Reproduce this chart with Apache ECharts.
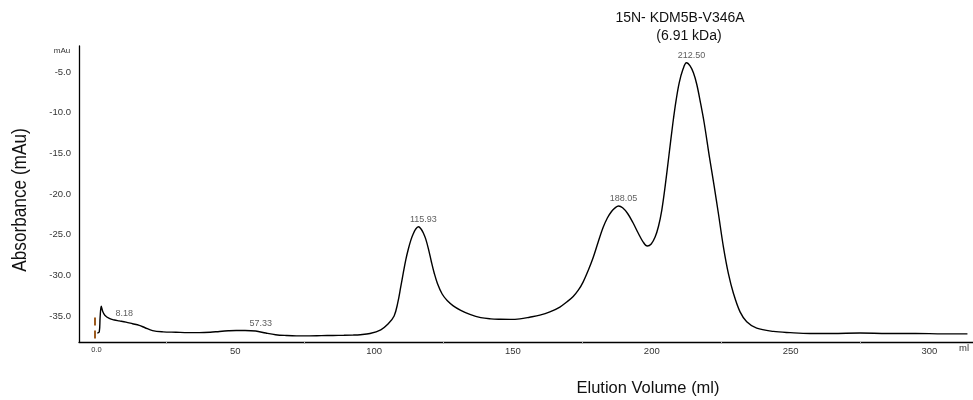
<!DOCTYPE html>
<html>
<head>
<meta charset="utf-8">
<title>15N- KDM5B-V346A elution profile</title>
<script src="https://cdn.jsdelivr.net/npm/echarts@6/dist/echarts.min.js"></script>
<style>
  html, body { margin: 0; padding: 0; background: #fff; }
  #chart { width: 973px; height: 400px; }
</style>
</head>
<body>
<div id="chart"></div>
<script>
// Elution volume (ml) of each trace sample
const volumes = [
  0.3, 1.0, 1.3, 1.7, 2.2, 3.0, 4.6, 6.5, 8.18, 10.6, 13, 15.4, 17.5, 20.2, 24, 28.6,
  33, 37, 41, 44.3, 47.5, 50.3, 53.5, 57.33, 61, 64.5, 68.3, 72, 76.7, 81, 85.2, 89,
  92.3, 95, 98.5, 102.4, 105, 107.2, 108.5, 109.6, 110.5, 111.4, 112.3, 113.2, 114.1,
  114.9, 115.93, 116.9, 117.8, 118.6, 119.6, 120.6, 121.7, 122.8, 124.5, 126.3, 128.5,
  131.2, 134.5, 138.4, 142, 145.5, 149, 152.5, 156, 159.7, 163.3, 166.9, 169.5, 171.7,
  173.6, 175.3, 177.1, 178.9, 180.7, 182.5, 184, 185.5, 186.8, 188.05, 189.5, 191.3,
  193.2, 195.1, 196.8, 198.4, 199.8, 201.2, 202.4, 203.6, 204.8, 206.2, 207.6, 208.8,
  209.9, 211.2, 212.5, 213.8, 215.0, 216.2, 217.5, 218.9, 220.7, 222.5, 224, 225.8,
  227.6, 229.4, 231.8, 234.2, 237.8, 243.8, 249.9, 257, 265, 275, 285, 295, 305, 313.7
];

// UV absorbance (mAu) at each volume
const absorbance = [
  -37.1, -36.95, -35.2, -33.8, -34.4, -34.9, -35.3, -35.5, -35.6, -35.75, -35.95, -36.15,
  -36.45, -36.8, -36.95, -37.0, -37.05, -37.05, -37.0, -36.9, -36.82, -36.78, -36.78,
  -36.85, -37.1, -37.3, -37.4, -37.45, -37.45, -37.42, -37.4, -37.38, -37.35, -37.3,
  -37.15, -36.7, -36.0, -35.0, -33.4, -31.4, -29.7, -28.1, -26.8, -25.7, -24.9,
  -24.35, -24.03, -24.3, -24.85, -25.55, -26.8, -28.3, -29.8, -31.0, -32.3, -33.1, -33.75,
  -34.3, -34.8, -35.2, -35.35, -35.4, -35.42, -35.35, -35.15, -34.9, -34.5, -33.9, -33.25,
  -32.6, -31.8, -30.8, -29.4, -27.8, -25.9, -24.1, -22.95, -22.15, -21.7, -21.48, -21.7,
  -22.4, -23.5, -24.8, -25.85, -26.4, -26.15, -25.3, -24.0, -22.0, -19.1, -15.2, -11.3,
  -8.4, -6.3, -4.7, -3.86, -4.25, -5.1, -6.5, -8.7, -11.3, -15.3, -19.1, -22.4, -26.5,
  -29.8, -32.2, -34.5, -35.7, -36.5, -36.9, -37.05, -37.15, -37.15, -37.1, -37.15, -37.15,
  -37.2, -37.2
];

// Annotated peak maxima
const peakVolumes = [8.18, 57.33, 115.93, 188.05, 212.50];
const peakHeights = [-35.6, -36.85, -24.03, -21.48, -3.86];

// Axis label values
const xTickLabels = [0, 50, 100, 150, 200, 250, 300];
const xMinorTicks = [25, 75, 125, 175, 225, 275];
const yTickLabels = [-35, -30, -25, -20, -15, -10, -5];

// Injection mark at 0 ml
const injectionVolume = 0;

const FONT = '"Liberation Sans", Arial, Helvetica, sans-serif';

const trace = volumes.map((v, i) => [v, absorbance[i]]);
const peaks = peakVolumes.map((v, i) => [v, peakHeights[i]]);

const chart = echarts.init(document.getElementById('chart'), null, { renderer: 'canvas' });

function centred(text, x, y, font, fill, extra) {
  return Object.assign({
    type: 'text',
    x: x, y: y,
    style: {
      text: text,
      font: font,
      fill: fill,
      align: 'center', verticalAlign: 'middle',
      textAlign: 'center', textVerticalAlign: 'middle'
    }
  }, extra || {});
}

chart.setOption({
  animation: false,
  backgroundColor: '#ffffff',
  grid: { left: 79, right: 0, top: 46, bottom: 58, containLabel: false },
  xAxis: {
    type: 'value',
    min: -6.3,
    max: 315.7,
    axisLine: { show: true, onZero: false, lineStyle: { color: '#000', width: 1.3 } },
    axisTick: {
      show: true,
      customValues: xMinorTicks,
      length: 2,
      lineStyle: { color: '#aaa', width: 1 }
    },
    splitLine: { show: false },
    axisLabel: {
      customValues: xTickLabels,
      margin: 4,
      color: '#333',
      fontFamily: FONT,
      formatter: v => (v === 0 ? '{s|0.0}' : '{n|' + v + '}'),
      rich: {
        s: { fontSize: 7.5, color: '#333', fontFamily: FONT },
        n: { fontSize: 9.5, color: '#333', fontFamily: FONT }
      }
    }
  },
  yAxis: {
    type: 'value',
    min: -38.2,
    max: -1.8,
    axisLine: { show: true, onZero: false, lineStyle: { color: '#000', width: 1.3 } },
    axisTick: { show: false },
    splitLine: { show: false },
    axisLabel: {
      customValues: yTickLabels,
      margin: 8,
      fontSize: 9.5,
      color: '#333',
      fontFamily: FONT,
      formatter: v => v.toFixed(1)
    }
  },
  series: [
    {
      type: 'line',
      data: trace,
      showSymbol: false,
      smooth: 0.35,
      lineStyle: { color: '#000', width: 1.4 },
      z: 3,
      markLine: {
        silent: true,
        symbol: ['none', 'none'],
        label: { show: false },
        lineStyle: { color: '#9c5a1e', width: 2, type: [8, 5] },
        data: [[
          { coord: [injectionVolume - 0.6, -35.2] },
          { coord: [injectionVolume - 0.6, -38.2] }
        ]]
      }
    },
    {
      type: 'scatter',
      data: peaks,
      symbolSize: 0,
      silent: true,
      z: 4,
      label: {
        show: true,
        position: 'top',
        distance: 3,
        offset: [5, 0],
        fontSize: 9,
        color: '#333',
        fontFamily: FONT,
        formatter: p => p.value[0].toFixed(2)
      }
    }
  ],
  graphic: [
    centred('15N- KDM5B-V346A', 680, 18, '14px ' + FONT, '#111'),
    centred('(6.91 kDa)', 689, 36, '14px ' + FONT, '#111'),
    centred('mAu', 62, 51, '8px ' + FONT, '#333'),
    centred('ml', 964, 348, '9.5px ' + FONT, '#333'),
    centred('Elution Volume (ml)', 648, 388, '16.5px ' + FONT, '#111'),
    centred('Absorbance (mAu)', 20, 200, '20px ' + FONT, '#111',
      { rotation: Math.PI / 2, scaleX: 0.86 })
  ]
});
</script>
</body>
</html>
